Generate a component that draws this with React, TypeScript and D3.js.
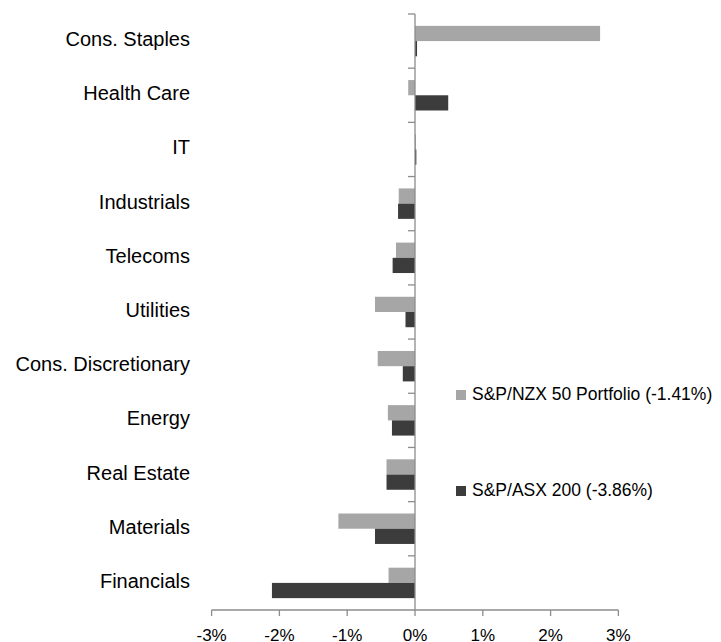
import React, { useRef, useEffect } from "react";
import * as d3 from "d3";

const categories = [
  "Cons. Staples",
  "Health Care",
  "IT",
  "Industrials",
  "Telecoms",
  "Utilities",
  "Cons. Discretionary",
  "Energy",
  "Real Estate",
  "Materials",
  "Financials",
];
const nzxValues = [2.73, -0.1, 0.01, -0.24, -0.28, -0.59, -0.55, -0.4, -0.42, -1.13, -0.39];
const asxValues = [0.03, 0.49, 0.02, -0.25, -0.33, -0.14, -0.18, -0.34, -0.42, -0.59, -2.11];
const seriesNames = ["S&P/NZX 50 Portfolio (-1.41%)", "S&P/ASX 200 (-3.86%)"];
const xTicks = [-3, -2, -1, 0, 1, 2, 3];

const colors = ["#a6a6a6", "#3c3c3c"];
const font = "'Liberation Sans', Arial, sans-serif";

function App() {
  const svgRef = useRef<SVGSVGElement | null>(null);

  useEffect(() => {
    const svg = d3.select(svgRef.current);
    svg.selectAll("*").remove();
    const width = 721;
    const height = 642;
    svg.attr("width", width).attr("height", height);

    const x = d3.scaleLinear().domain([-3, 3]).range([211.6, 618.4]);
    const y = d3.scaleBand<string>().domain(categories).range([14, 610]);
    const sub = d3
      .scaleBand<string>()
      .domain(seriesNames)
      .range([0, y.step()])
      .paddingOuter(0.78);

    const axisColor = "#8c8c8c";

    // bars
    const series = [nzxValues, asxValues];
    series.forEach((vals, si) => {
      svg
        .append("g")
        .selectAll("rect")
        .data(vals)
        .enter()
        .append("rect")
        .attr("x", (d) => x(Math.min(0, d)))
        .attr("width", (d) => Math.max(1, Math.abs(x(d) - x(0))))
        .attr("y", (_d, i) => (y(categories[i]) as number) + (sub(seriesNames[si]) as number))
        .attr("height", sub.bandwidth())
        .attr("fill", colors[si]);
    });

    // y axis at zero with ticks at band boundaries
    const ya = svg.append("g").attr("stroke", axisColor).attr("stroke-width", 1.3);
    ya.append("line")
      .attr("x1", x(0))
      .attr("x2", x(0))
      .attr("y1", 14)
      .attr("y2", 610);
    const bounds = categories.map((c) => y(c) as number);
    ya.selectAll("line.tick")
      .data(bounds)
      .enter()
      .append("line")
      .attr("class", "tick")
      .attr("x1", x(0) - 7)
      .attr("x2", x(0))
      .attr("y1", (d) => d)
      .attr("y2", (d) => d);

    // x axis
    const xa = svg.append("g").attr("stroke", axisColor).attr("stroke-width", 1.3);
    xa.append("line")
      .attr("x1", x(-3))
      .attr("x2", x(3))
      .attr("y1", 610)
      .attr("y2", 610);
    xa.selectAll("line.tick")
      .data(xTicks)
      .enter()
      .append("line")
      .attr("class", "tick")
      .attr("x1", (d) => x(d))
      .attr("x2", (d) => x(d))
      .attr("y1", 610)
      .attr("y2", 616);

    svg
      .append("g")
      .selectAll("text")
      .data(xTicks)
      .enter()
      .append("text")
      .attr("x", (d) => x(d))
      .attr("y", 641)
      .attr("text-anchor", "middle")
      .attr("font-family", font)
      .attr("font-size", 17)
      .attr("fill", "#000")
      .text((d) => `${d}%`);

    // category labels
    svg
      .append("g")
      .selectAll("text")
      .data(categories)
      .enter()
      .append("text")
      .attr("x", 190)
      .attr("y", (d) => (y(d) as number) + y.bandwidth() / 2 + 5)
      .attr("text-anchor", "end")
      .attr("font-family", font)
      .attr("font-size", 20)
      .attr("fill", "#000")
      .text((d) => d);

    // legend
    const legend = svg
      .append("g")
      .selectAll("g")
      .data(seriesNames)
      .enter()
      .append("g")
      .attr("transform", (_d, i) => `translate(456,${395 + i * 96})`);
    legend
      .append("rect")
      .attr("x", 0)
      .attr("y", -5)
      .attr("width", 10)
      .attr("height", 10)
      .attr("fill", (_d, i) => colors[i]);
    legend
      .append("text")
      .attr("x", 16)
      .attr("y", 5)
      .attr("font-family", font)
      .attr("font-size", 17.5)
      .attr("fill", "#000")
      .text((d) => d);
  }, []);

  return (
    <svg
      ref={svgRef}
      style={{ position: "absolute", left: 0, top: 0, background: "#fff" }}
    ></svg>
  );
}

export default App;
